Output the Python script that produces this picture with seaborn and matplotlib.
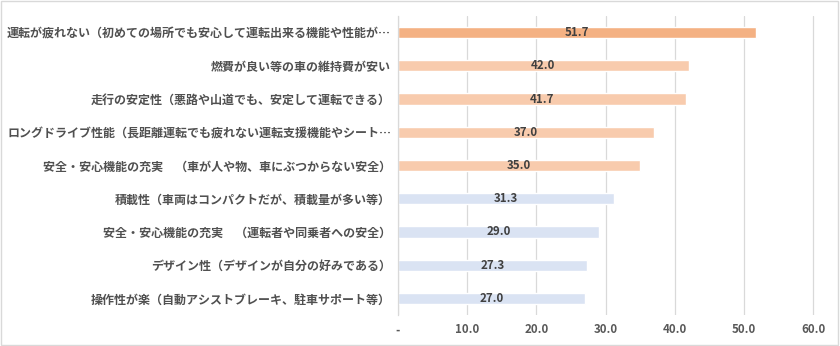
import matplotlib
matplotlib.use("Agg")
import matplotlib.pyplot as plt
import seaborn as sns
import pandas as pd
from matplotlib.ticker import FuncFormatter

categories = [
    "運転が疲れない（初めての場所でも安心して運転出来る機能や性能が…",
    "燃費が良い等の車の維持費が安い",
    "走行の安定性（悪路や山道でも、安定して運転できる）",
    "ロングドライブ性能（長距離運転でも疲れない運転支援機能やシート…",
    "安全・安心機能の充実　（車が人や物、車にぶつからない安全）",
    "積載性（車両はコンパクトだが、積載量が多い等）",
    "安全・安心機能の充実　（運転者や同乗者への安全）",
    "デザイン性（デザインが自分の好みである）",
    "操作性が楽（自動アシストブレーキ、駐車サポート等）",
]
values = [51.7, 42.0, 41.7, 37.0, 35.0, 31.3, 29.0, 27.3, 27.0]
bar_colors = ["#F4B183", "#F8CBAD", "#F8CBAD", "#F8CBAD", "#F8CBAD",
              "#DAE3F3", "#DAE3F3", "#DAE3F3", "#DAE3F3"]
xticks = [0, 10, 20, 30, 40, 50, 60]

sns.set_theme(style="white")
plt.rcParams["font.family"] = ["Noto Sans CJK JP", "DejaVu Sans"]

df = pd.DataFrame({"cat": categories, "val": values})

fig = plt.figure(figsize=(8.4, 3.46), dpi=100)
ax = fig.add_axes([398 / 840, 31 / 346, (813 - 398) / 840 * 62 / 60, 299 / 346])

sns.barplot(data=df, x="val", y="cat", hue="cat", palette=bar_colors,
            legend=False, width=0.34, ax=ax, orient="h", saturation=1)

for p, v in zip(ax.patches, values):
    ax.text(v / 2, p.get_y() + p.get_height() / 2, f"{v:.1f}",
            ha="center", va="center", fontsize=8.3, fontweight="bold",
            color="#404040")

ax.set_xlim(0, 62)
ax.set_ylim(8.5, -0.5)
ax.set_xticks(xticks)
ax.xaxis.set_major_formatter(FuncFormatter(lambda x, _: "-" if x == 0 else f"{x:.1f}"))
ax.grid(axis="x", color="#D9D9D9", linewidth=0.9)
ax.set_axisbelow(True)
for s in ["top", "right", "bottom"]:
    ax.spines[s].set_visible(False)
ax.spines["left"].set_color("#D9D9D9")
ax.spines["left"].set_linewidth(0.9)
ax.set_xlabel("")
ax.set_ylabel("")
ax.tick_params(axis="y", length=0, pad=5, labelsize=8.65, labelcolor="#505050")
ax.tick_params(axis="x", length=0, pad=6, labelsize=8.3, labelcolor="#595959")
for t in ax.get_yticklabels():
    t.set_fontweight("bold")
for t in ax.get_xticklabels():
    t.set_fontweight("bold")

fig.patches.append(plt.Rectangle((0.001, 0.002), 0.997, 0.995, transform=fig.transFigure,
                                 fill=False, edgecolor="#D9D9D9", linewidth=1))

fig.savefig("out.png", dpi=100)
